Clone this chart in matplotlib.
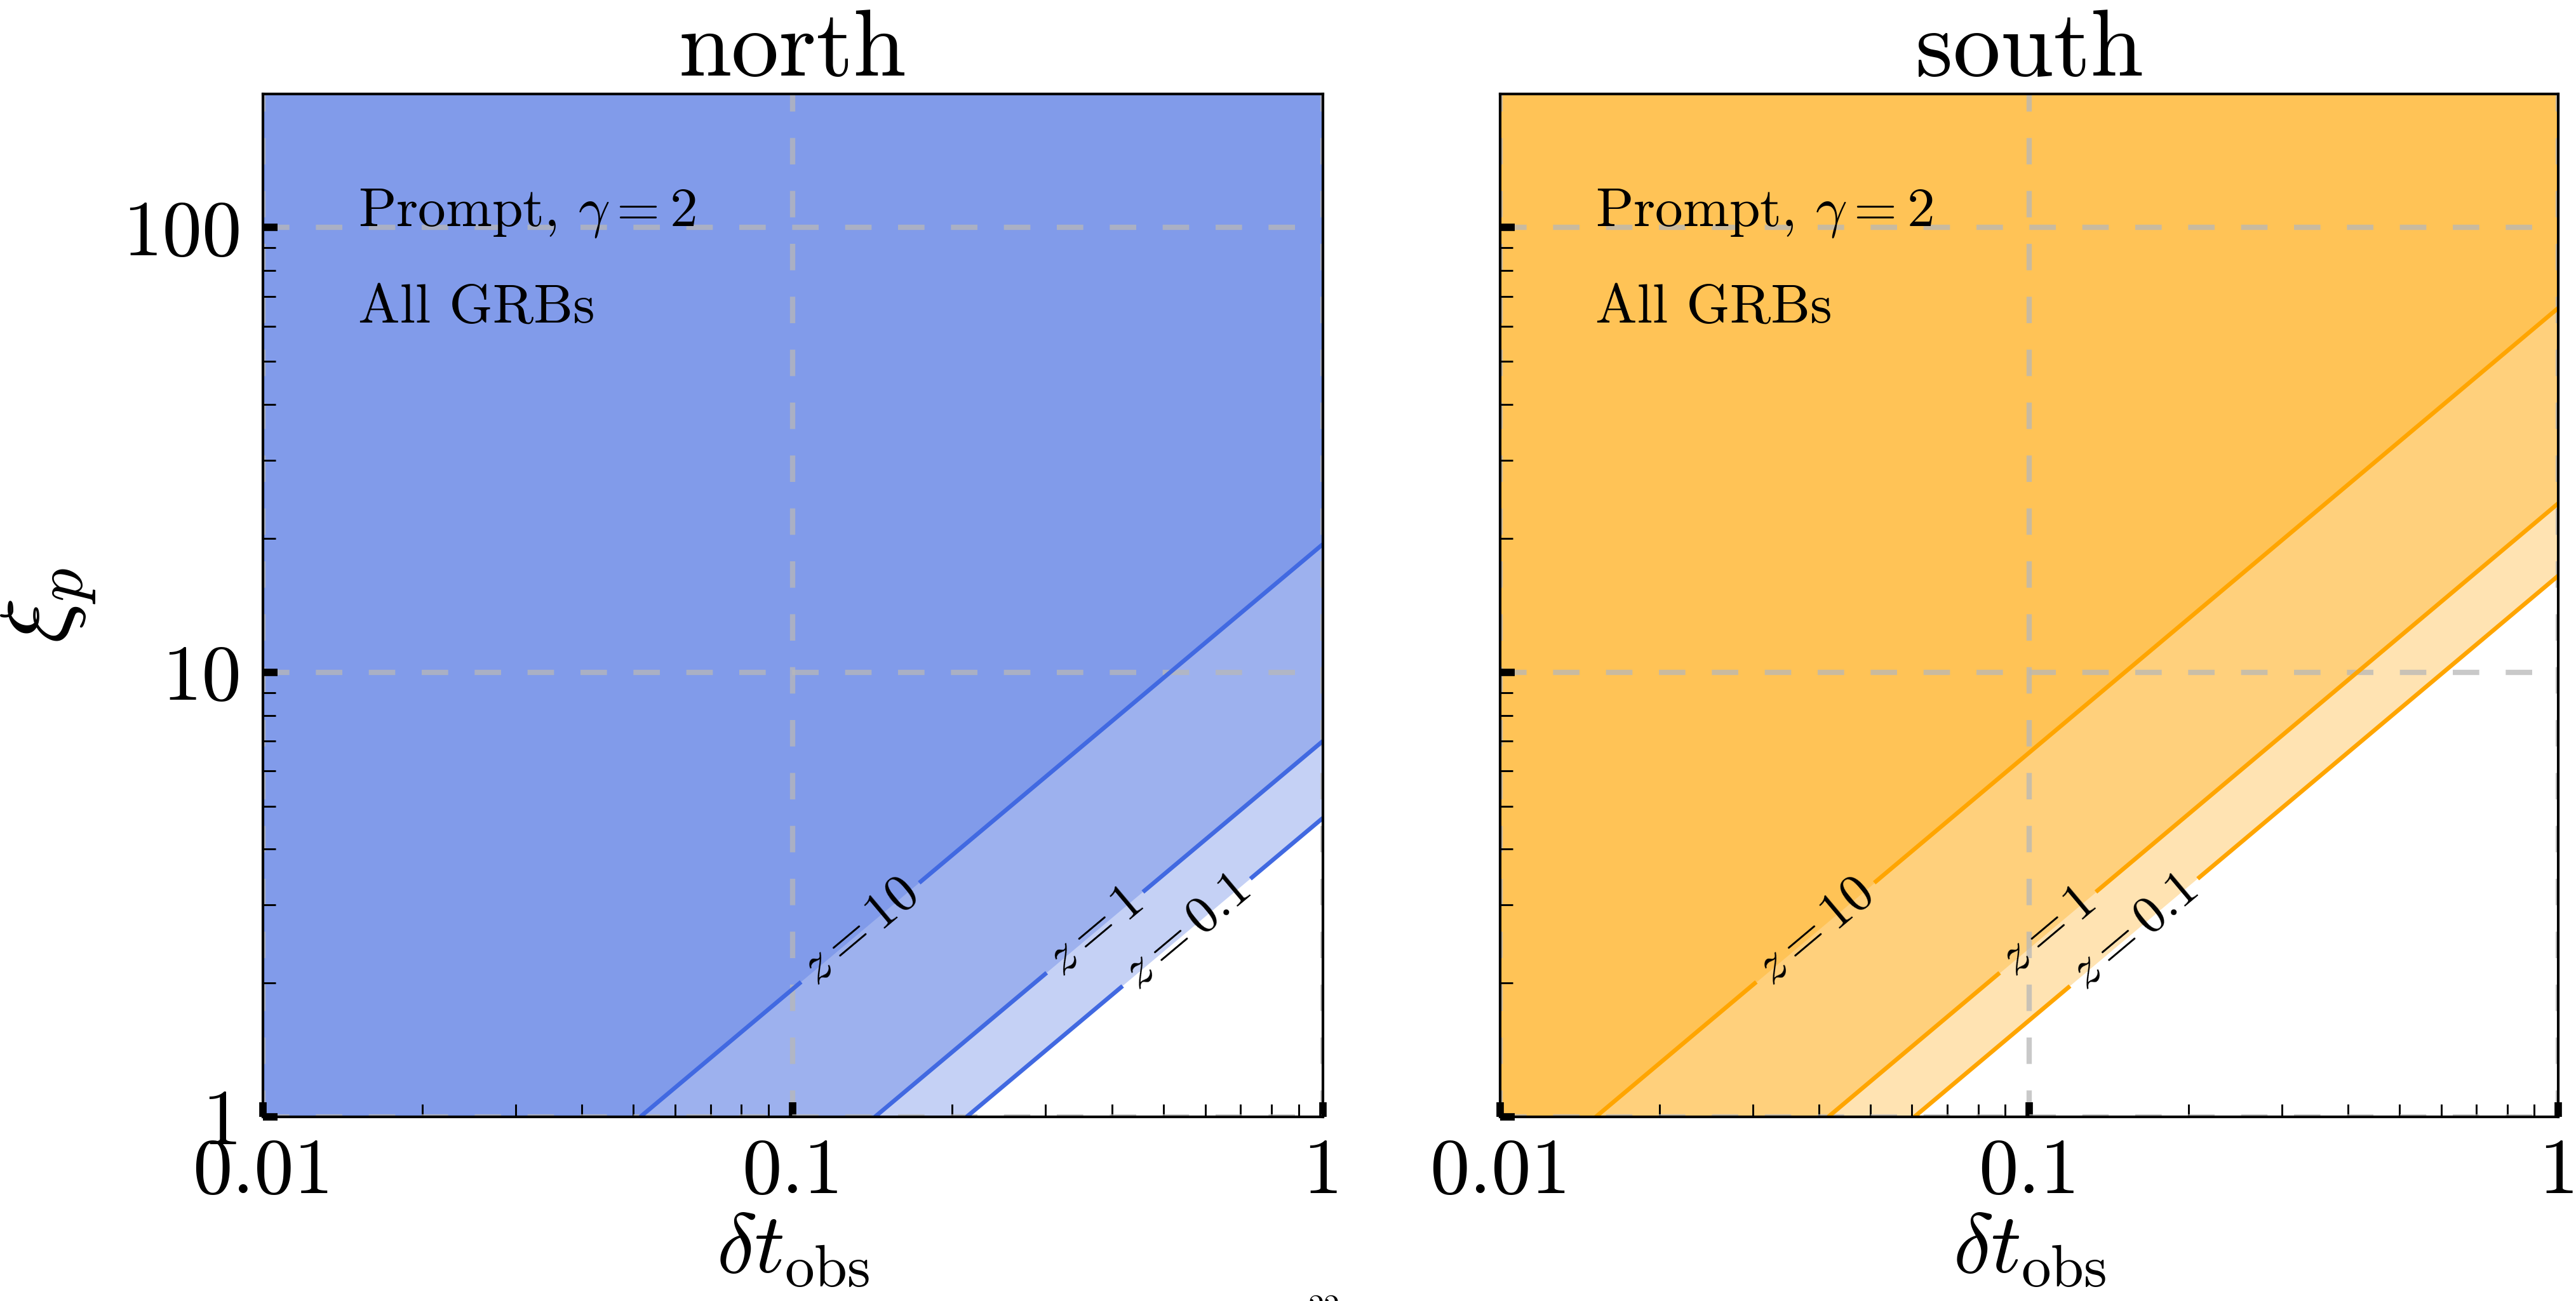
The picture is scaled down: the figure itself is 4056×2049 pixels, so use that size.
import numpy as np
import matplotlib
matplotlib.use("Agg")
import matplotlib.pyplot as plt
from matplotlib.ticker import FixedLocator, FixedFormatter, LogLocator, NullFormatter

# ---------------- data ----------------
dt_range = [0.01, 1.0]          # delta t_obs axis range
xi_range = [1.0, 200.0]         # xi_p axis range
z_labels = ["0.1", "1", "10"]   # redshift of each boundary line
# boundary lines are xi_p = coeff * delta t_obs (slope 1 in log-log)
north_coeff = [4.7, 7.0, 19.4]
south_coeff = [16.5, 24.0, 66.0]
panels = ["north", "south"]
xticks = [0.01, 0.1, 1]
xticklabels = ["0.01", "0.1", "1"]
yticks = [1, 10, 100]
yticklabels = ["1", "10", "100"]
label_xi = 2.6                  # height at which the z labels sit

plt.rcParams["font.family"] = "serif"
plt.rcParams["font.serif"] = ["cmr10"]
plt.rcParams["mathtext.fontset"] = "cm"
plt.rcParams["axes.unicode_minus"] = False
plt.rcParams["axes.formatter.use_mathtext"] = True

fig = plt.figure(figsize=(13.52, 6.83), dpi=300)
ax_n = fig.add_axes([0.102, 0.1415, 0.4115, 0.7865])
ax_s = fig.add_axes([0.5824, 0.1415, 0.4108, 0.7865])

colors = {"north": "royalblue", "south": "orange"}
coeffs = {"north": north_coeff, "south": south_coeff}

dt = np.logspace(np.log10(dt_range[0]), np.log10(dt_range[1]), 400)
xi = np.logspace(np.log10(xi_range[0]), np.log10(xi_range[1]), 400)
X, Y = np.meshgrid(dt, xi)
Z = Y / X

for ax, name in zip([ax_n, ax_s], panels):
    c = colors[name]
    k = coeffs[name]
    ax.set_xscale("log")
    ax.set_yscale("log")
    ax.set_xlim(dt_range)
    ax.set_ylim(xi_range)
    for coeff in k:
        ax.fill_between(dt, coeff * dt, xi_range[1], color=c, alpha=0.3,
                        linewidth=0, zorder=1)
    cs = ax.contour(X, Y, Z, levels=k, colors=c, linewidths=1.6, zorder=3)
    fmt = {lev: r"$z=%s$" % lab for lev, lab in zip(cs.levels, z_labels)}
    manual = [(label_xi / coeff, label_xi) for coeff in k]
    ax.clabel(cs, levels=cs.levels, fmt=fmt, manual=manual, inline=True,
              fontsize=20, colors="black", inline_spacing=14)
    ax.grid(True, which="major", color="0.72", alpha=0.75, linewidth=2.0,
            linestyle=(0, (5, 5)), zorder=2)
    ax.set_axisbelow(False)
    ax.xaxis.set_major_locator(FixedLocator(xticks))
    ax.xaxis.set_major_formatter(FixedFormatter(xticklabels))
    ax.yaxis.set_major_locator(FixedLocator(yticks))
    ax.yaxis.set_major_formatter(FixedFormatter(yticklabels))
    ax.xaxis.set_minor_locator(LogLocator(base=10, subs=np.arange(2, 10)))
    ax.yaxis.set_minor_locator(LogLocator(base=10, subs=np.arange(2, 10)))
    ax.xaxis.set_minor_formatter(NullFormatter())
    ax.yaxis.set_minor_formatter(NullFormatter())
    ax.tick_params(which="major", direction="in", length=5.5, width=2.8,
                   top=False, right=False, labelsize=30, pad=8)
    ax.tick_params(which="minor", direction="in", length=4.8, width=0.7,
                   top=False, right=False)
    for sp in ax.spines.values():
        sp.set_linewidth(1.0)
        sp.set_zorder(5)
    ax.set_title(name, fontsize=36, pad=6)
    ax.set_xlabel(r"$\delta t_{\rm obs}$", fontsize=32, labelpad=1)
    ax.text(0.09, 0.883, r"Prompt, $\gamma=2$", transform=ax.transAxes,
            fontsize=21, va="center", ha="left", zorder=6)
    ax.text(0.09, 0.79, "All GRBs", transform=ax.transAxes,
            fontsize=21, va="center", ha="left", zorder=6)

ax_n.set_ylabel(r"$\xi_p$", fontsize=36, labelpad=9)
ax_s.tick_params(axis="y", which="both", labelleft=False)

fig.text(2085 / 4056, 1 - 2038 / 2049, "22", fontsize=12, ha="center", va="top")

fig.savefig("out.png", dpi=300)
